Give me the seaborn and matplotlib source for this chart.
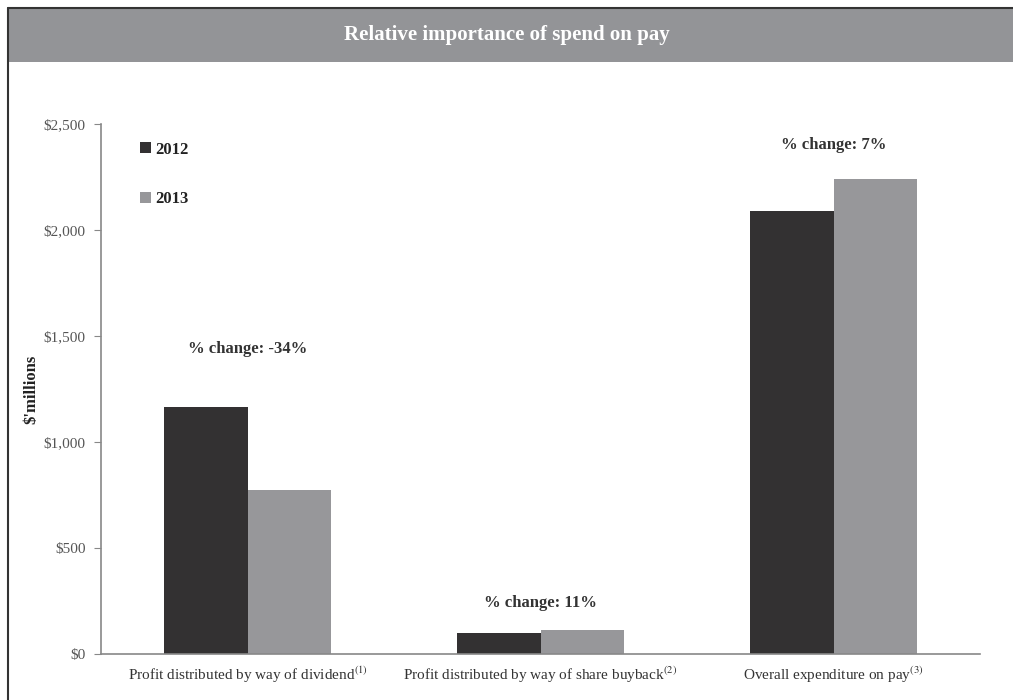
import pandas as pd
import matplotlib.pyplot as plt
import seaborn as sns
from matplotlib.patches import Rectangle
from matplotlib.lines import Line2D

# Datos
categories = [r"Profit distributed by way of dividend$^{(1)}$",
              r"Profit distributed by way of share buyback$^{(2)}$",
              r"Overall expenditure on pay$^{(3)}$"]
values_2012 = [1165, 100, 2090]
values_2013 = [775, 115, 2240]
changes = ["% change: -34%", "% change: 11%", "% change: 7%"]
yticks = [0, 500, 1000, 1500, 2000, 2500]
ytick_labels = ["$0", "$500", "$1,000", "$1,500", "$2,000", "$2,500"]

df = pd.DataFrame({
    "category": categories * 2,
    "year": ["2012"] * 3 + ["2013"] * 3,
    "value": values_2012 + values_2013,
})

sns.set_style("white")
plt.rcParams["font.family"] = ["Liberation Serif", "DejaVu Serif"]
plt.rcParams["mathtext.fontset"] = "stix"

fig = plt.figure(figsize=(10.13, 7), dpi=100)
ax = fig.add_axes([101 / 1013, 1 - 654 / 700, 879 / 1013, 530 / 700])

sns.barplot(data=df, x="category", y="value", hue="year", ax=ax,
            palette=["#333132", "#97979a"], width=0.573, saturation=1,
            linewidth=0, legend=True)

ax.set_ylim(0, 2500)
ax.set_xlim(-0.5, 2.5)
ax.set_yticks(yticks)
ax.set_yticklabels(ytick_labels, color="#555555", fontsize=11)
ax.set_xticks([0, 1, 2])
ax.set_xticklabels(categories, color="#333333", fontsize=11)
ax.tick_params(axis="x", length=0, pad=8)
ax.set_xticks([0.5, 1.5, 2.5], minor=True)
ax.tick_params(axis="x", which="minor", length=5, color="#888888", direction="out")
ax.tick_params(axis="y", length=5, color="#888888", direction="out", left=True, pad=6)
ax.set_xlabel("")
ax.set_ylabel("$'millions", fontsize=12, fontweight="bold", color="#222222")
ax.yaxis.set_label_coords(-0.07, 0.5)
for s in ["top", "right"]:
    ax.spines[s].set_visible(False)
for s in ["left", "bottom"]:
    ax.spines[s].set_color("#888888")
    ax.spines[s].set_linewidth(1.2)

# Etiquetas de cambio porcentual
label_y = [1440, 240, 2400]
for i, txt in enumerate(changes):
    ax.text(i, label_y[i], txt, ha="center", va="center", fontsize=12,
            fontweight="bold", color="#333333")

leg = ax.legend(loc="upper left", bbox_to_anchor=(0.027, 0.995), frameon=False,
                handlelength=0.65, handleheight=0.65, handletextpad=0.3,
                labelspacing=2.0, prop={"weight": "bold", "size": 12})
for t in leg.get_texts():
    t.set_color("#222222")

# Barra del titulo y marco
fig.patches.append(Rectangle((8 / 1013, 1 - 62 / 700), 1, 54 / 700,
                             transform=fig.transFigure, facecolor="#939497",
                             edgecolor="none", zorder=0))
fig.text(0.5, 1 - 35 / 700, "Relative importance of spend on pay", ha="center",
         va="center", fontsize=15, fontweight="bold", color="white")
fig.lines.append(Line2D([8 / 1013, 8 / 1013], [0, 1 - 8 / 700], transform=fig.transFigure,
                        color="#333333", linewidth=1.5))
fig.lines.append(Line2D([8 / 1013, 1], [1 - 8 / 700, 1 - 8 / 700], transform=fig.transFigure,
                        color="#333333", linewidth=1.5))

fig.savefig("out.png", dpi=100)
